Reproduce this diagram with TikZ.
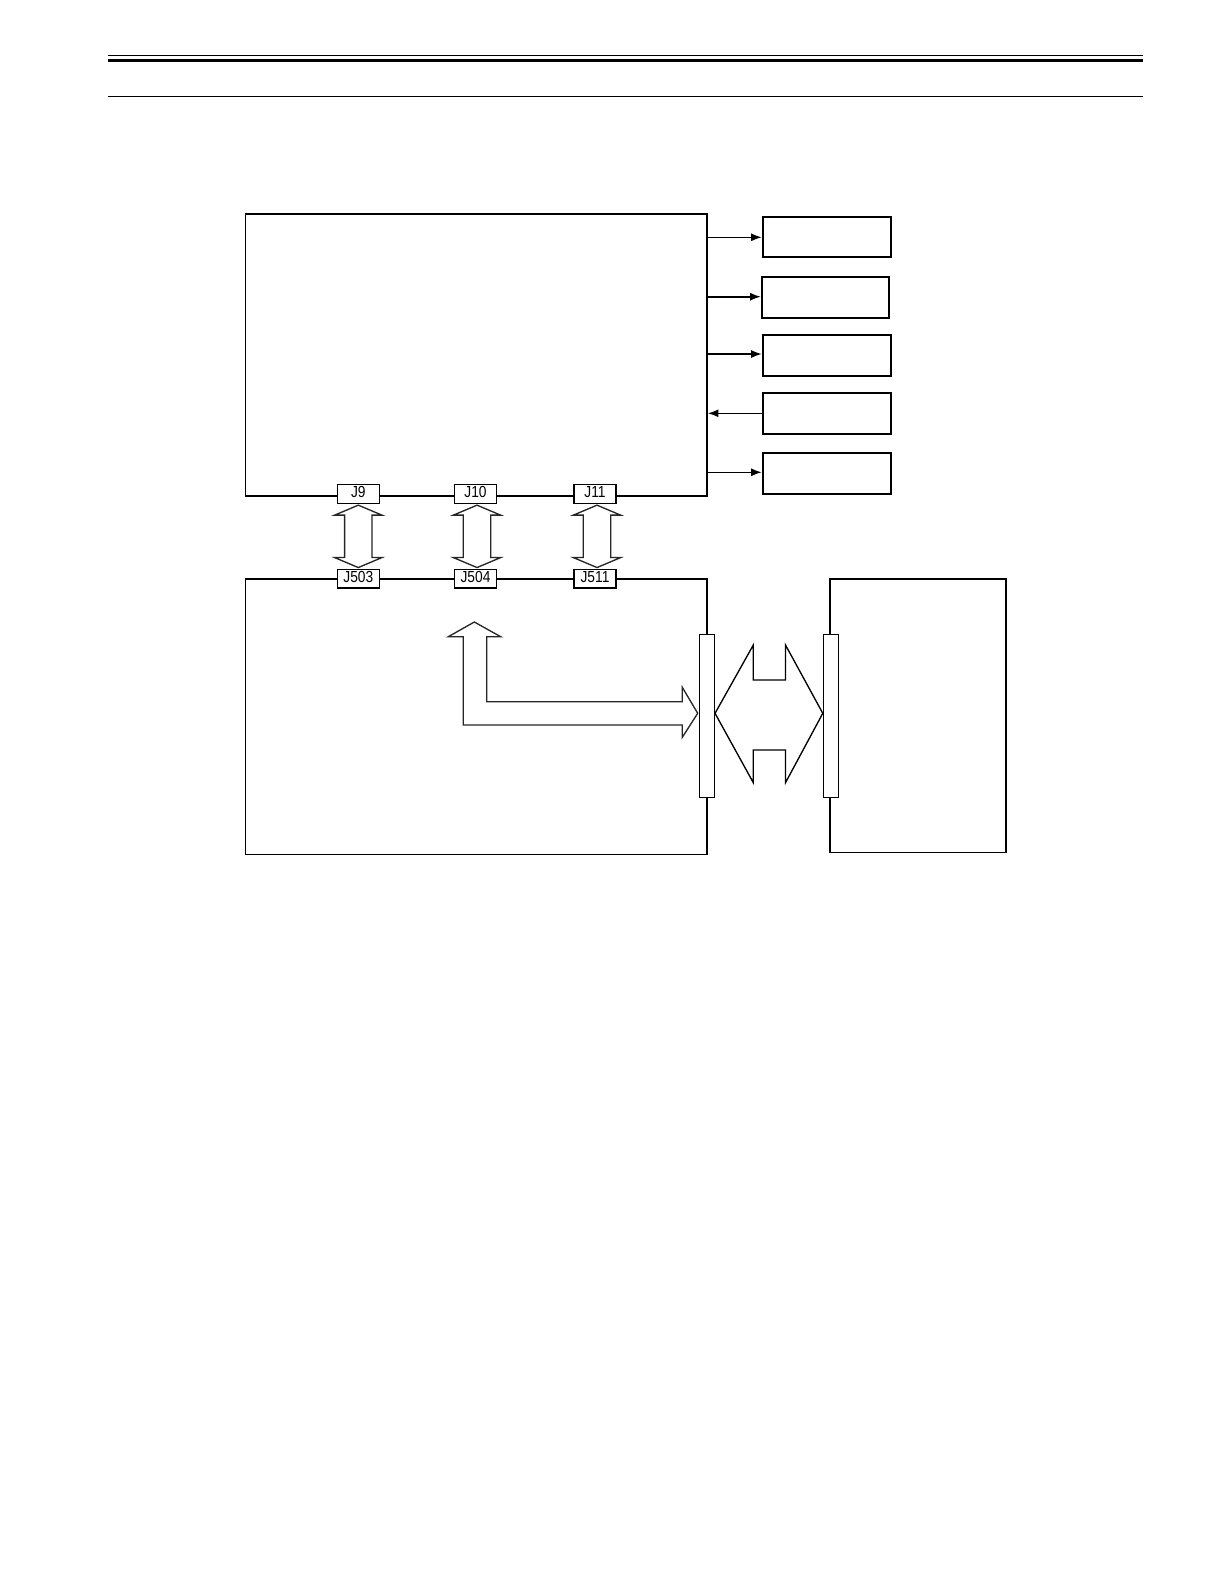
\documentclass[tikz,border=0pt]{standalone}
\usepackage{fontspec}
\setmainfont{Liberation Sans}
\usetikzlibrary{fit,calc,arrows.meta}
\tikzset{
  box/.style={draw, line width=1.3pt, inner sep=0pt},
  conn/.style={draw, line width=1.1pt, fill=white, inner sep=0pt,
    minimum width=31.5pt, minimum height=14pt, font=\fontsize{12}{13}\selectfont},
  blockarrow/.style={draw=black!85, line width=1pt, fill=white, line join=miter},
  sig/.style={line width=1.2pt, -{Latex[length=8pt,width=6pt]}},
  strip/.style={draw, line width=0.8pt, fill=white},
  vdarrow/.pic={\draw[blockarrow] (0,-31.2) -- (23.7,-21.2) -- (13.7,-21.2) -- (13.7,21.2)
     -- (23.7,21.2) -- (0,31.2) -- (-23.7,21.2) -- (-13.7,21.2) -- (-13.7,-21.2)
     -- (-23.7,-21.2) -- cycle;}
}
\newcommand{\cl}[1]{\raisebox{3pt}{\scalebox{0.86}[1]{#1}}}
\begin{document}
\begin{tikzpicture}[x=0.75pt,y=-0.75pt]
\useasboundingbox (0,0) rectangle (1224,1584);
% header rules
\coordinate (hl) at (108,55.3); \coordinate (hr) at (1143,55.3);
\draw[line width=0.8pt] (hl) -- (hr);
\draw[line width=2.6pt] ($(hl)+(0,5.4)$) -- ($(hr)+(0,5.4)$);
\draw[line width=1pt] ($(hl)+(0,41.4)$) -- ($(hr)+(0,41.4)$);
% main boxes
\node[box, fit={(245.4,214.1)(706.9,495.9)}] (main) {};
\node[box, fit={(245.4,578.7)(706.9,854.4)}] (lower) {};
\node[box, fit={(830.1,578.7)(1005.9,852.4)}] (right) {};
% small boxes
\node[box, fit={(762.7,217.3)(891,257.3)}] (b1) {};
\node[box, fit={(761.7,276.7)(889.3,317.7)}] (b2) {};
\node[box, fit={(762.7,335)(891,375.7)}] (b3) {};
\node[box, fit={(762.7,392.7)(891,434)}] (b4) {};
\node[box, fit={(762.7,453.3)(891,494.3)}] (b5) {};
\draw[sig] (main.east |- 0,237.3) -- (b1.west |- 0,237.3);
\draw[sig] (main.east |- 0,296.7) -- (b2.west |- 0,296.7);
\draw[sig] (main.east |- 0,354) -- (b3.west |- 0,354);
\draw[sig] (b4.west |- 0,413.3) -- (main.east |- 0,413.3);
\draw[sig] (main.east |- 0,472.3) -- (b5.west |- 0,472.3);
% connectors
\node[conn] (j9) at (358.3,494) {\cl{J9}};
\node[conn] (j10) at (475.5,494) {\cl{J10}};
\node[conn] (j11) at (595,494) {\cl{J11}};
\node[conn] (j503) at (358.3,578.7) {\cl{J503}};
\node[conn] (j504) at (475.5,578.7) {\cl{J504}};
\node[conn] (j511) at (595,578.7) {\cl{J511}};
\path ($(j9.south)!0.5!(j503.north)$) pic {vdarrow};
\path ($(j10.south)!0.5!(j504.north)+(1.5,0)$) pic {vdarrow};
\path ($(j11.south)!0.5!(j511.north)+(2,0)$) pic {vdarrow};
% L-shaped arrow
\draw[blockarrow] (474.3,622) -- (500.7,636.7) -- (486.7,636.7) -- (486.7,701.7)
  -- (682.3,701.7) -- (682.3,687.3) -- (697.7,713.3) -- (682.3,737.3) -- (682.3,725)
  -- (463.3,725) -- (463.3,636.7) -- (448.3,636.7) -- cycle;
% connector strips
\node[strip, inner sep=0pt, fit={(699.3,634.3)(714.5,797.3)}] (sl) {};
\node[strip, inner sep=0pt, fit={(823.3,634.3)(838.3,797.3)}] (sr) {};
% big double arrow
\draw[blockarrow, draw=black] (sl.east |- 0,713.3) -- (753.3,645) -- (753.3,680) -- (785.5,680)
  -- (785.5,645) -- (sr.west |- 0,713.3) -- (785.5,782.7) -- (785.5,750) -- (753.3,750)
  -- (753.3,782.7) -- cycle;
\end{tikzpicture}
\end{document}
